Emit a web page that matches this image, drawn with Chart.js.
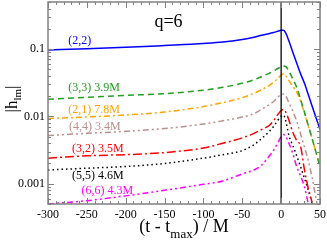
<!DOCTYPE html>
<html>
<head>
<meta charset="utf-8">
<script src="https://cdn.jsdelivr.net/npm/chart.js@4.4.0/dist/chart.umd.min.js"></script>
<style>
  html, body { margin: 0; padding: 0; background: #fff; }
  #box { width: 327px; height: 241px; }
</style>
</head>
<body>
<div id="box"><canvas id="hlmChart"></canvas></div>
<script>
// 時間軸 (t - t_max)/M
let tVals = [-300, -250, -200, -150, -100, -75, -50, -35, -25, -15, -10, -5, 0, 3, 6, 10, 15, 20, 25, 30, 35, 40, 45, 50];

// 各モードの |h_lm|
let h22 = [0.097, 0.101, 0.106, 0.113, 0.121, 0.127, 0.139, 0.150, 0.160, 0.170, 0.176, 0.183, 0.190, 0.190, 0.172, 0.132, 0.090, 0.062, 0.043, 0.031, 0.021, 0.014, 0.0095, 0.0064];
let h33 = [0.018, 0.0192, 0.0205, 0.0218, 0.0245, 0.027, 0.031, 0.035, 0.039, 0.044, 0.047, 0.051, 0.054, 0.056, 0.055, 0.047, 0.036, 0.027, 0.018, 0.0115, 0.0073, 0.0046, 0.0029, 0.0018];
let h21 = [0.0093, 0.0098, 0.0105, 0.0116, 0.014, 0.016, 0.019, 0.022, 0.025, 0.029, 0.032, 0.036, 0.041, 0.043, 0.040, 0.034, 0.028, 0.023, 0.017, 0.0112, 0.0072, 0.0046, 0.0029, 0.0018];
let h44 = [0.0052, 0.0056, 0.006, 0.0066, 0.0077, 0.0086, 0.0098, 0.011, 0.0128, 0.015, 0.0165, 0.019, 0.021, 0.0215, 0.020, 0.016, 0.012, 0.0085, 0.0055, 0.0035, 0.0022, 0.0012, 0.0006, 0.0003];
let h32 = [0.0024, 0.0026, 0.0027, 0.0029, 0.0034, 0.004, 0.0048, 0.0056, 0.0064, 0.0074, 0.0086, 0.0104, 0.0122, 0.0127, 0.0115, 0.0088, 0.0058, 0.0044, 0.0036, 0.0016, 0.00085, 0.00052, 0.0003, 0.0002];
let h55 = [0.0016, 0.0017, 0.0018, 0.002, 0.0024, 0.0027, 0.0031, 0.0038, 0.0047, 0.006, 0.007, 0.0085, 0.010, 0.0105, 0.0085, 0.0052, 0.0037, 0.0026, 0.0018, 0.0012, 0.0008, 0.0005, 0.0003, 0.0002];
let h66 = [0.0005, 0.00056, 0.00066, 0.0008, 0.00098, 0.0011, 0.0014, 0.0016, 0.0019, 0.0026, 0.0031, 0.0039, 0.005, 0.0054, 0.005, 0.004, 0.0028, 0.0018, 0.0013, 0.0009, 0.0005, 0.0003, 0.0002, 0.0002];

// 曲線ラベル
let curveLabels = ['(2,2)', '(3,3) 3.9M', '(2,1) 7.8M', '(4,4) 3.4M', '(3,2) 3.5M', '(5,5) 4.6M', '(6,6) 4.3M'];
let labelX = [-274, -274, -274, -273, -269, -269, -257];
let labelY = [0.133, 0.0262, 0.0127, 0.0071, 0.00333, 0.00132, 0.00079];
let colors = ['#0000ff', '#22a022', '#ffa500', '#bc8f8f', '#ff0000', '#000000', '#ff00ff'];
let dashes = [[], [6, 4], [6, 3, 2, 3], [6, 3, 2, 3, 2, 3], [9, 3, 2, 3], [1.5, 3], [6, 3, 2, 3, 2, 3]];
let series = [h22, h33, h21, h44, h32, h55, h66];

let serif = "'Liberation Serif', 'DejaVu Serif', serif";

let makeSet = function(vals, i) {
  return {
    label: curveLabels[i],
    data: tVals.map((t, k) => ({x: t, y: vals[k]})),
    borderColor: colors[i],
    borderDash: dashes[i],
    borderWidth: 1.5,
    pointRadius: 0,
    fill: false,
    cubicInterpolationMode: 'monotone'
  };
};

// 枠・内向き目盛・t=0の線・文字を描くプラグイン
let framePlugin = {
  id: 'frame',
  afterDatasetsDraw(chart) {
    let ctx = chart.ctx;
    let a = chart.chartArea;
    let xs = chart.scales.x;
    let ys = chart.scales.y;
    ctx.save();

    // t = 0 の縦線
    let x0 = xs.getPixelForValue(0);
    ctx.strokeStyle = '#000';
    ctx.lineWidth = 1.3;
    ctx.beginPath();
    ctx.moveTo(x0, a.top);
    ctx.lineTo(x0, a.bottom);
    ctx.stroke();

    // 枠
    ctx.strokeStyle = '#808080';
    ctx.lineWidth = 1.5;
    ctx.strokeRect(a.left, a.top, a.right - a.left, a.bottom - a.top);

    // x の目盛
    ctx.lineWidth = 1;
    ctx.beginPath();
    for (let v = -300; v <= 50; v += 10) {
      let px = Math.round(xs.getPixelForValue(v)) + 0.5;
      let len = (v % 50 == 0) ? 6 : 3;
      ctx.moveTo(px, a.bottom); ctx.lineTo(px, a.bottom - len);
      ctx.moveTo(px, a.top); ctx.lineTo(px, a.top + len);
    }
    // y の目盛 (対数)
    for (let d = -4; d <= 0; d++) {
      for (let m = 1; m <= 9; m++) {
        let v = m * Math.pow(10, d);
        if (v < ys.min || v > ys.max) continue;
        let py = Math.round(ys.getPixelForValue(v)) + 0.5;
        let len = (m == 1) ? 6 : 3;
        ctx.moveTo(a.left, py); ctx.lineTo(a.left + len, py);
        ctx.moveTo(a.right, py); ctx.lineTo(a.right - len, py);
      }
    }
    ctx.stroke();

    // 曲線のラベル
    ctx.font = '12px ' + serif;
    ctx.textBaseline = 'middle';
    ctx.textAlign = 'left';
    for (let i = 0; i < curveLabels.length; i++) {
      ctx.fillStyle = colors[i];
      ctx.fillText(curveLabels[i], xs.getPixelForValue(labelX[i]), ys.getPixelForValue(labelY[i]));
    }
    ctx.fillStyle = '#000';
    ctx.font = '18px ' + serif;
    ctx.fillText('q=6', xs.getPixelForValue(-163), ys.getPixelForValue(0.25));

    // x 軸タイトル
    ctx.textBaseline = 'alphabetic';
    let p1 = '(t - t';
    let p2 = 'max';
    let p3 = ') / M';
    ctx.font = '13px ' + serif;
    let w2 = ctx.measureText(p2).width;
    ctx.font = '18px ' + serif;
    let w1 = ctx.measureText(p1).width;
    let w3 = ctx.measureText(p3).width;
    let cx = (a.left + a.right) / 2;
    let sx = cx - (w1 + w2 + w3) / 2;
    ctx.fillText(p1, sx, 232);
    ctx.fillText(p3, sx + w1 + w2, 232);
    ctx.font = '13px ' + serif;
    ctx.fillText(p2, sx + w1, 238);

    // y 軸タイトル
    ctx.translate(17, (a.top + a.bottom) / 2 - 4);
    ctx.rotate(-Math.PI / 2);
    ctx.font = '17px ' + serif;
    let q1 = '|h';
    let q2 = 'lm';
    let q3 = '|';
    let v1 = ctx.measureText(q1).width;
    let v3 = ctx.measureText(q3).width;
    ctx.font = '11px ' + serif;
    let v2 = ctx.measureText(q2).width;
    let sy = -(v1 + v2 + v3) / 2;
    ctx.fillText(q2, sy + v1, 4);
    ctx.font = '17px ' + serif;
    ctx.fillText(q1, sy, 0);
    ctx.fillText(q3, sy + v1 + v2, 0);
    ctx.restore();
  }
};

let hlmChart = new Chart(document.getElementById('hlmChart'), {
  type: 'line',
  data: {
    datasets: series.map(makeSet)
  },
  options: {
    responsive: true,
    maintainAspectRatio: false,
    animation: false,
    layout: { padding: { top: 2, right: 7, left: 0, bottom: 0 } },
    plugins: {
      legend: { display: false },
      tooltip: { enabled: false }
    },
    scales: {
      x: {
        type: 'linear',
        min: -300,
        max: 50,
        grid: { display: false, drawTicks: false },
        border: { display: false },
        ticks: {
          stepSize: 50,
          padding: 4,
          color: '#000',
          font: { family: serif, size: 12 }
        },
        afterFit: function(s) { s.height = 37; s.paddingLeft = 0; s.paddingRight = 0; }
      },
      y: {
        type: 'logarithmic',
        min: 0.0005,
        max: 0.5,
        grid: { display: false, drawTicks: false },
        border: { display: false },
        ticks: {
          autoSkip: false,
          padding: 3,
          color: '#000',
          font: { family: serif, size: 12 },
          callback: function(v) {
            let l = Math.log10(v);
            if (Math.abs(l - Math.round(l)) < 1e-6) return String(Number(v.toPrecision(1)));
            return '';
          }
        },
        afterFit: function(s) { s.width = 48; s.paddingTop = 0; s.paddingBottom = 0; }
      }
    }
  },
  plugins: [framePlugin]
});
</script>
</body>
</html>
